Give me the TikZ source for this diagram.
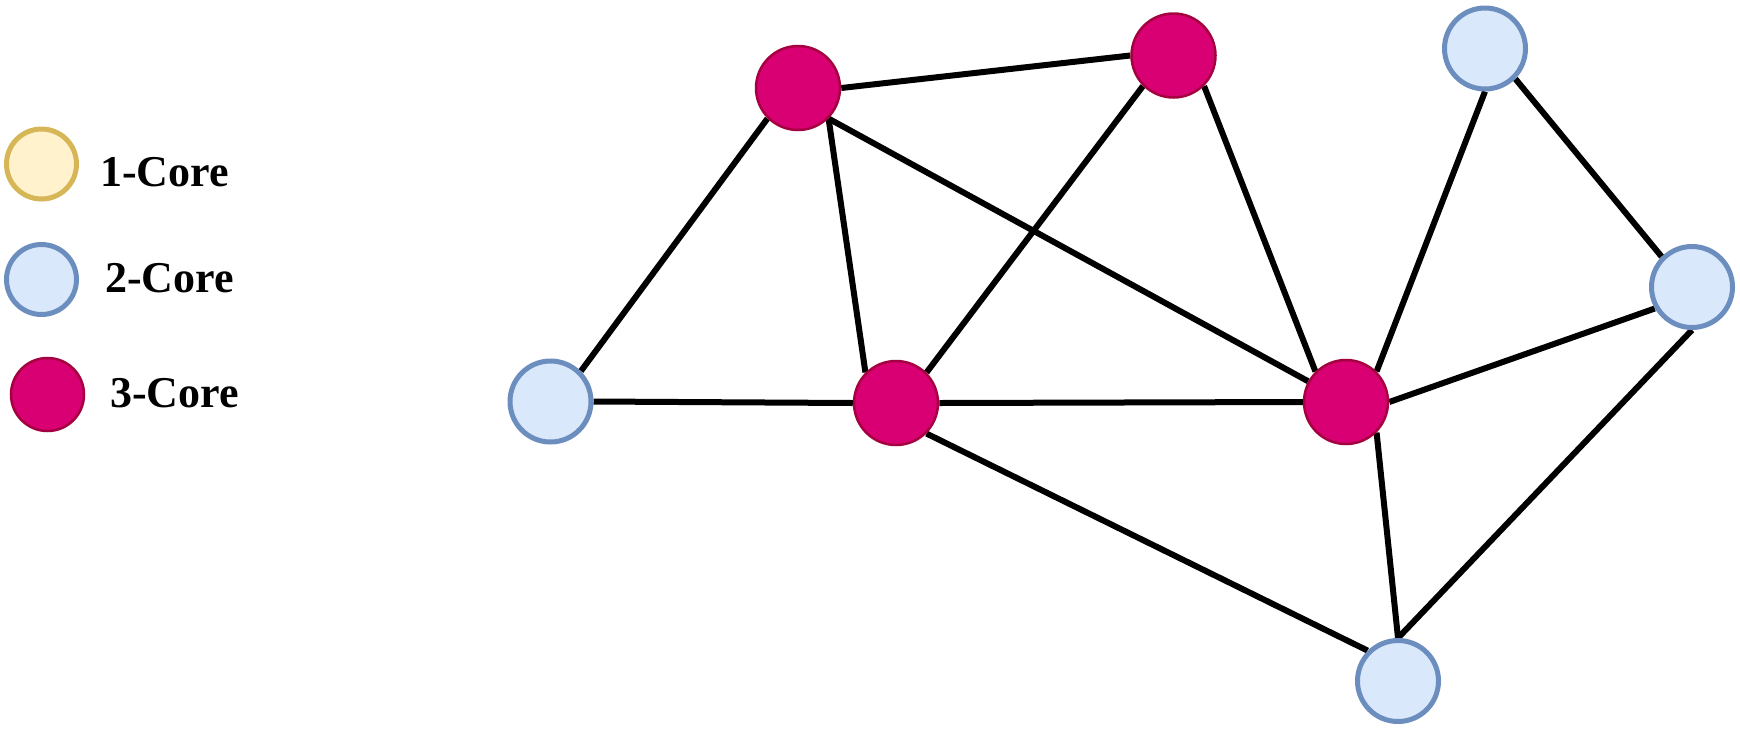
\documentclass[tikz,border=0pt]{standalone}
\usepackage{fontspec}
\setmainfont{Liberation Serif}
\usetikzlibrary{backgrounds}
\definecolor{magfill}{HTML}{D80073}
\definecolor{magdraw}{HTML}{A50040}
\definecolor{bluefill}{HTML}{DAE8FC}
\definecolor{bluedraw}{HTML}{6C8EBF}
\definecolor{yelfill}{HTML}{FFF2CC}
\definecolor{yeldraw}{HTML}{D6B656}
\tikzset{
  core3/.style={circle, fill=magfill, draw=magdraw, line width=2.5pt, minimum size=84pt, inner sep=0pt},
  core2/.style={circle, fill=bluefill, draw=bluedraw, line width=5pt, minimum size=81pt, inner sep=0pt},
  leg1/.style={circle, fill=yelfill, draw=yeldraw, line width=5pt, minimum size=70pt, inner sep=0pt},
  leg2/.style={circle, fill=bluefill, draw=bluedraw, line width=5pt, minimum size=70pt, inner sep=0pt},
  leg3/.style={circle, fill=magfill, draw=magdraw, line width=2.5pt, minimum size=73pt, inner sep=0pt},
  legtext/.style={anchor=base west, inner sep=0pt, font=\fontsize{44}{50}\selectfont\bfseries},
  edge/.style={line width=6pt, black}
}
\begin{document}
\begin{tikzpicture}[x=1pt, y=-1pt]
\useasboundingbox (0,0) rectangle (1740,729);
% legend
\node[leg1] (l1) at (41.5,164) {};
\node[leg2] (l2) at (41.5,279.5) {};
\node[leg3] (l3) at (47.5,394.5) {};
\node[legtext] (t1) at (100,186) {1-Core};
\node[legtext] (t2) at (105,292) {2-Core};
\node[legtext] (t3) at (110,407) {3-Core};
% graph nodes
\node[core3] (A) at (798,88) {};
\node[core3] (B) at (1173.5,55.5) {};
\node[core2] (C) at (1485,48.5) {};
\node[core2] (D) at (1692,287) {};
\node[core2] (E) at (550.5,401.5) {};
\node[core3] (F) at (896,403) {};
\node[core3] (G) at (1346,402) {};
\node[core2] (H) at (1398,681) {};
\begin{scope}[on background layer]
\fill[white] (0,0) rectangle (1740,729);
\draw[edge] (A.east) -- (B.west);
\draw[edge] (A.south west) -- (E.north east);
\draw[edge] (A.south east) -- (F.north west);
\draw[edge] (A.south east) -- (G);
\draw[edge] (B.south west) -- (F.north east);
\draw[edge] (B.south east) -- (G.north west);
\draw[edge] (C.south) -- (G.north east);
\draw[edge] (C.south east) -- (D.north west);
\draw[edge] (D.210) -- (G.east);
\draw[edge] (D.south) -- (H.north);
\draw[edge] (E.east) -- (F.west);
\draw[edge] (F.east) -- (G.west);
\draw[edge] (F.south east) -- (H.north west);
\draw[edge] (G.south east) -- (H.north);
\end{scope}
\end{tikzpicture}
\end{document}
